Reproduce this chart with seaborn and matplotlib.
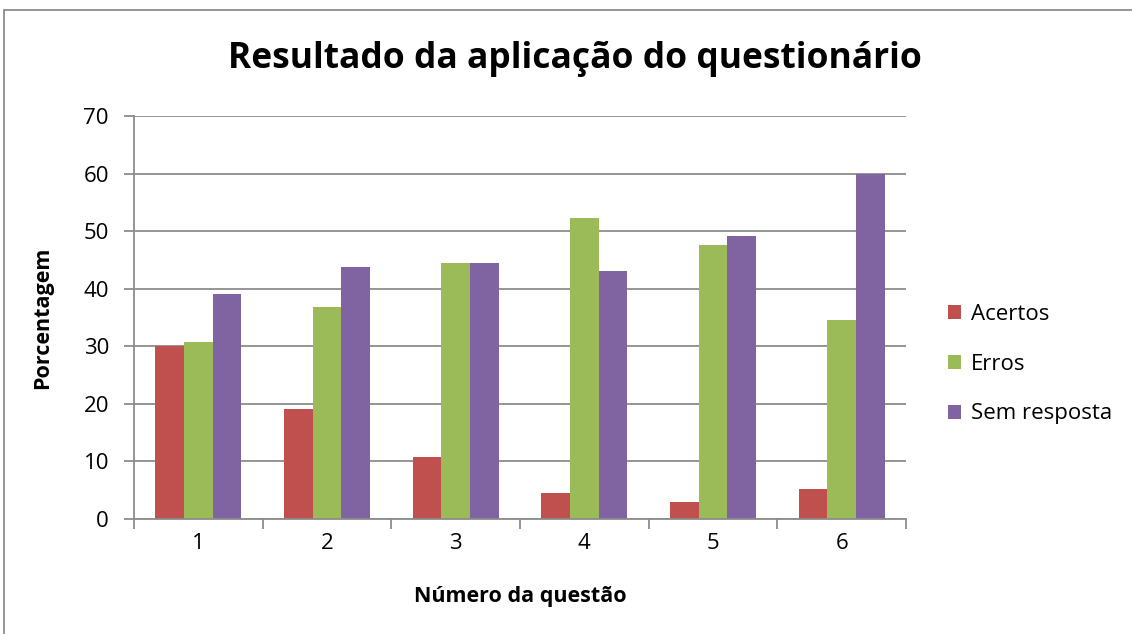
import matplotlib
matplotlib.use("Agg")
import matplotlib.pyplot as plt
import seaborn as sns
import pandas as pd
from matplotlib.lines import Line2D
from matplotlib.patches import Patch

questions = ["1", "2", "3", "4", "5", "6"]
series = ["Acertos", "Erros", "Sem resposta"]
acertos = [30.0, 19.1, 10.7, 4.5, 3.0, 5.2]
erros = [30.7, 36.9, 44.5, 52.2, 47.6, 34.5]
sem_resposta = [39.1, 43.7, 44.5, 43.1, 49.1, 60.0]
colors = ["#C0504D", "#9BBB59", "#8064A2"]

rows = []
for name, vals in zip(series, [acertos, erros, sem_resposta]):
    for q, v in zip(questions, vals):
        rows.append({"Questão": q, "Série": name, "Valor": v})
df = pd.DataFrame(rows)

sns.set_style("white")
plt.rcParams["font.family"] = ["Open Sans", "DejaVu Sans"]
plt.rcParams["text.color"] = "black"
plt.rcParams["axes.labelcolor"] = "black"
plt.rcParams["xtick.labelcolor"] = "black"
plt.rcParams["ytick.labelcolor"] = "black"

fig = plt.figure(figsize=(11.32, 6.34), dpi=100)
ax = fig.add_axes([134/1132, 1-519/634, (906-134)/1132, (519-116)/634])

sns.barplot(data=df, x="Questão", y="Valor", hue="Série", order=questions,
            hue_order=series, palette=colors, saturation=1, width=0.667, gap=0,
            edgecolor="none", linewidth=0, ax=ax, legend=False, errorbar=None)

ax.set_ylim(0, 70)
ax.set_xlim(-0.5, 5.5)
ax.set_yticks(range(0, 71, 10))
ax.yaxis.grid(True, color="#8C8C8C", linewidth=1.3)
ax.set_axisbelow(True)
for s in ["top", "right"]:
    ax.spines[s].set_visible(False)
for s in ["left", "bottom"]:
    ax.spines[s].set_color("#8C8C8C")
    ax.spines[s].set_linewidth(1.3)
ax.tick_params(axis="y", direction="out", length=7, width=1.3, color="#8C8C8C",
               labelsize=16, pad=11, left=True)
ax.set_xticks([x + 0.5 for x in range(-1, 6)], minor=True)
ax.tick_params(axis="x", which="minor", direction="out", length=7, width=1.3,
               color="#8C8C8C", bottom=True)
ax.tick_params(axis="x", which="major", length=0, labelsize=16, pad=10)
ax.set_xlabel("Número da questão", fontsize=15.5, fontweight="bold", labelpad=23)
ax.set_ylabel("Porcentagem", fontsize=15.5, fontweight="bold", labelpad=22)

fig.suptitle("Resultado da aplicação do questionário", x=575/1132, y=1-59/634,
             va="center", fontsize=25.5, fontweight="bold")

handles = [Patch(facecolor=c, edgecolor="none") for c in colors]
fig.legend(handles, series, loc="center left", bbox_to_anchor=(928/1132, 1-364/634),
           frameon=False, fontsize=16, handlelength=0.6, handleheight=0.6,
           handletextpad=0.45, labelspacing=1.3)

# outer chart border
fig.add_artist(Line2D([4/1132, 1.0], [1-10/634, 1-10/634], transform=fig.transFigure,
                      color="#8C8C8C", linewidth=1.3))
fig.add_artist(Line2D([4/1132, 4/1132], [0, 1-10/634], transform=fig.transFigure,
                      color="#8C8C8C", linewidth=1.3))

fig.savefig("out.png", dpi=100)
